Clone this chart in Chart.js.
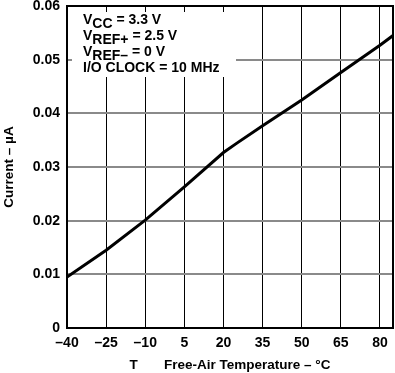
<!DOCTYPE html>
<html>
<head>
<meta charset="utf-8">
<script src="https://cdn.jsdelivr.net/npm/chart.js@4.4.0/dist/chart.umd.min.js"></script>
<style>
  html, body { margin: 0; padding: 0; background: #fff; }
  #chart { display: block; }
</style>
</head>
<body>
<canvas id="chart" width="395" height="373"></canvas>
<script>
// values
const tempC = [-40, -25, -10, 5, 20, 25, 35, 50, 65, 80, 85];
const currentUA = [0.0095, 0.0145, 0.0201, 0.0263, 0.0327, 0.0344, 0.0377, 0.0425, 0.0476, 0.0527, 0.0545];
const xTickValues = [-40, -25, -10, 5, 20, 35, 50, 65, 80, 85];
const yTickValues = [0, 0.01, 0.02, 0.03, 0.04, 0.05, 0.06];

const FONT = '"Liberation Sans", Arial, sans-serif';

// white box with the test conditions, sits over the grid
const conditionsBox = {
    id: 'conditionsBox',
    beforeDatasetsDraw(chart) {
        const ctx = chart.ctx;
        const a = chart.chartArea;
        ctx.save();
        ctx.fillStyle = '#fff';
        ctx.fillRect(a.left + 5, a.top + 6, 164, 65);
        ctx.fillStyle = '#000';
        ctx.font = 'bold 14px ' + FONT;
        ctx.textBaseline = 'alphabetic';
        const x = a.left + 16;
        const lines = [
            ['V', 'CC', ' = 3.3 V'],
            ['V', 'REF+', ' = 2.5 V'],
            ['V', 'REF\u2013', ' = 0 V'],
            ['I/O CLOCK = 10 MHz', '', '']
        ];
        lines.forEach((l, i) => {
            const base = a.top + 18 + i * 16;
            let cx = x;
            ctx.fillText(l[0], cx, base);
            cx += ctx.measureText(l[0]).width;
            if (l[1]) {
                ctx.fillText(l[1], cx, base + 4);
                cx += ctx.measureText(l[1]).width;
            }
            if (l[2]) ctx.fillText(l[2], cx, base);
        });
        ctx.restore();
    },
    afterDraw(chart) {
        const ctx = chart.ctx;
        const a = chart.chartArea;
        ctx.save();
        ctx.strokeStyle = '#000';
        ctx.lineWidth = 2;
        ctx.strokeRect(a.left, a.top, a.right - a.left, a.bottom - a.top);
        ctx.restore();
    }
};

new Chart(document.getElementById('chart'), {
    type: 'line',
    data: {
        datasets: [{
            data: tempC.map((t, i) => ({ x: t, y: currentUA[i] })),
            borderColor: '#000',
            borderWidth: 3,
            pointRadius: 0,
            tension: 0,
            fill: false
        }]
    },
    options: {
        responsive: false,
        animation: false,
        layout: { padding: { left: 0, right: 2, top: 6, bottom: 0 } },
        plugins: {
            legend: { display: false },
            tooltip: { enabled: false }
        },
        scales: {
            x: {
                type: 'linear',
                min: -40,
                max: 85,
                afterBuildTicks: scale => {
                    scale.ticks = xTickValues.map(v => ({ value: v }));
                },
                afterFit: scale => {
                    scale.height = 45;
                    scale.paddingLeft = 0;
                    scale.paddingRight = 0;
                },
                grid: { color: '#000', lineWidth: 1, drawTicks: false },
                border: { display: true, color: '#000', width: 2 },
                ticks: {
                    color: '#000',
                    padding: 7,
                    maxRotation: 0,
                    autoSkip: false,
                    font: { family: FONT, size: 14, weight: 'bold' },
                    callback: v => v === 85 ? '' : String(v).replace('-', '\u2013')
                },
                title: {
                    display: true,
                    text: 'T       Free-Air Temperature \u2013 \u00B0C',
                    color: '#000',
                    padding: { top: 3, bottom: 0 },
                    font: { family: FONT, size: 13.5, weight: 'bold' }
                }
            },
            y: {
                min: 0,
                max: 0.06,
                afterBuildTicks: scale => {
                    scale.ticks = yTickValues.map(v => ({ value: v }));
                },
                afterFit: scale => {
                    scale.width = 67;
                    scale.paddingTop = 0;
                    scale.paddingBottom = 0;
                },
                grid: { color: '#8a8a8a', lineWidth: 2, drawTicks: false },
                border: { display: true, color: '#000', width: 2 },
                ticks: {
                    color: '#000',
                    padding: 7,
                    font: { family: FONT, size: 14, weight: 'bold' },
                    callback: v => v === 0 ? '0' : v.toFixed(2)
                },
                title: {
                    display: true,
                    text: 'Current \u2013 \u00B5A',
                    color: '#000',
                    padding: { top: 1, bottom: 0 },
                    font: { family: FONT, size: 13.5, weight: 'bold' }
                }
            }
        }
    },
    plugins: [conditionsBox]
});
</script>
</body>
</html>
